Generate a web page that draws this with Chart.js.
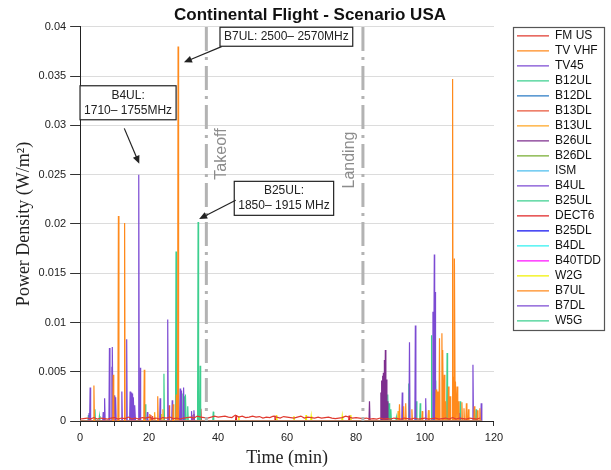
<!DOCTYPE html>
<html>
<head>
<meta charset="utf-8">
<script src="https://cdn.jsdelivr.net/npm/chart.js@4.4.0/dist/chart.umd.min.js"></script>
<style>
  html, body { margin: 0; padding: 0; background: #fff; }
</style>
</head>
<body>
<canvas id="flightChart" width="611" height="470"></canvas>
<script>
        // Series names and colours, in legend order
        const seriesNames = ['FM US', 'TV VHF', 'TV45', 'B12UL', 'B12DL', 'B13DL', 'B13UL', 'B26UL', 'B26DL', 'ISM',
            'B4UL', 'B25UL', 'DECT6', 'B25DL', 'B4DL', 'B40TDD', 'W2G', 'B7UL', 'B7DL', 'W5G'];
        const seriesColors = ['#e03a2f', '#ff8a1c', '#7c4bd3', '#3dcf8f', '#2a7bc4', '#e8563a', '#ffa623', '#7e2f8e', '#77ac30', '#4dbeee',
            '#7c4bd3', '#3dcf8f', '#e02424', '#1010f0', '#30f0f0', '#ff10ff', '#f0f000', '#ff8a1c', '#7c4bd3', '#3dcf8f'];

        const flightEnd = 116.5; // min, last sample

        // FM US background level, one reading per minute from t = 0 (W/m^2)
        const fmUsLevel = [
            0.0002, 0.00025, 0.0003, 0.0002, 0.00035, 0.0002, 0.0003, 0.00025, 0.0002, 0.0003,
            0.00035, 0.0002, 0.0003, 0.00025, 0.0004, 0.0002, 0.0003, 0.0002, 0.00035, 0.0003,
            0.0004, 0.00025, 0.0003, 0.0002, 0.00035, 0.0003, 0.0004, 0.00025, 0.0003, 0.0002,
            0.0003, 0.00035, 0.0004, 0.0003, 0.0005, 0.0004, 0.00035, 0.0003, 0.0004, 0.0005,
            0.0004, 0.00045, 0.0005, 0.0004, 0.00035, 0.0006, 0.0004, 0.0005, 0.00035, 0.0004,
            0.0005, 0.0004, 0.00045, 0.0003, 0.0004, 0.00035, 0.0005, 0.0004, 0.0003, 0.00045,
            0.0004, 0.00035, 0.0003, 0.0004, 0.0005, 0.0003, 0.0004, 0.00035, 0.0003, 0.0004,
            0.0003, 0.00035, 0.0004, 0.0003, 0.00025, 0.0003, 0.00035, 0.0005, 0.0004, 0.0003,
            0.00035, 0.0003, 0.00025, 0.0003, 0.0002, 0.00025, 0.0002, 0.0003, 0.0002, 0.00025,
            0.0002, 0.0003, 0.00025, 0.0002, 0.0003, 0.00025, 0.0002, 0.0003, 0.0002, 0.00025,
            0.0003, 0.0002, 0.00025, 0.0003, 0.0002, 0.00025, 0.0003, 0.0002, 0.00035, 0.0002,
            0.0003, 0.00025, 0.0002, 0.0003, 0.00025, 0.0002, 0.0003
        ];

        // Peaks: [time (min), power density (W/m^2)]
        const tvVhfPeaks = [[4.0, 0.0036], [9.6, 0.0047], [11.1, 0.0208], [12.9, 0.0201], [18.6, 0.0052],
            [20.2, 0.0007], [22.5, 0.0025], [27.0, 0.0017]];
        const tv45Peaks = [[2.6, 0.0008], [2.9, 0.0034], [6.7, 0.0009], [7.1, 0.0023], [8.5, 0.0074], [9.2, 0.0055],
            [9.4, 0.0075], [9.9, 0.0026], [10.3, 0.0024], [12.1, 0.003], [13.5, 0.0083], [14.5, 0.003], [14.8, 0.0029],
            [15.2, 0.0028], [15.5, 0.0024], [15.9, 0.0016], [17.4, 0.0054], [19.5, 0.0009], [23.2, 0.0023],
            [25.4, 0.0103], [26.7, 0.0021], [29.0, 0.0033], [29.4, 0.0031], [30.0, 0.0034], [32.3, 0.001], [33.0, 0.0011]];
        const b13dlPeaks = [[25.8, 0.0016], [21.0, 0.0005]];
        const b13ulPeaks = [[21.6, 0.0009], [24.0, 0.0012], [92.2, 0.001], [101.1, 0.0011]];
        const b26ulPeaks = [[83.9, 0.002], [87.2, 0.0029], [87.5, 0.0041], [87.8, 0.0046], [88.0, 0.0049],
            [88.3, 0.0062], [88.5, 0.0072], [88.8, 0.0042], [89.1, 0.002]];
        const b4ulPeaks = [[17.0, 0.025]];
        const b25ulPeaks = [[34.2, 0.0202], [34.8, 0.0056], [38.6, 0.00095]];
        const dect6Peaks = [[20.5, 0.0006], [32.4, 0.0006], [33.0, 0.0007], [35.0, 0.00125], [45.2, 0.0006],
            [56.5, 0.00055], [78.0, 0.00055]];
        const w2gPeaks = [[23.5, 0.0007], [46.0, 0.0005], [57.0, 0.0006], [62.0, 0.0005], [65.5, 0.0006],
            [67.0, 0.0005], [76.0, 0.0005], [78.5, 0.0006]];
        const b7ulPeaks = [[27.9, 0.0027], [28.4, 0.038], [92.6, 0.0017], [93.8, 0.0015], [94.4, 0.0018], [96.2, 0.0012],
            [99.2, 0.001], [101.0, 0.0011], [103.2, 0.0032], [103.6, 0.003], [104.2, 0.0084], [104.9, 0.0089],
            [105.2, 0.0072], [105.6, 0.0047], [106.0, 0.002], [106.8, 0.0035], [107.3, 0.0025], [108.0, 0.0347],
            [108.3, 0.0045], [108.6, 0.0165], [108.9, 0.004], [109.3, 0.0035], [109.7, 0.002], [110.7, 0.0019],
            [111.3, 0.0013], [112.0, 0.0018], [112.6, 0.0012], [114.3, 0.0015], [115.2, 0.0011], [115.9, 0.0013]];
        const b7dlPeaks = [[93.4, 0.0029], [95.5, 0.008], [97.2, 0.0097], [100.2, 0.0023], [102.3, 0.0111],
            [102.7, 0.0169], [102.9, 0.0131], [104.0, 0.0028], [105.3, 0.0032], [110.0, 0.0008], [113.9, 0.0057], [116.3, 0.0018]];
        const w5gPeaks = [[2.4, 0.0006], [4.3, 0.0012], [5.6, 0.0005], [18.9, 0.0017], [24.3, 0.0048], [27.8, 0.0172],
            [29.8, 0.0028], [30.3, 0.0025], [30.6, 0.0027], [31.2, 0.0015], [89.2, 0.0027], [89.6, 0.0018], [90.1, 0.0012],
            [91.7, 0.0004], [95.3, 0.0038], [97.5, 0.002], [98.6, 0.0018], [101.9, 0.0087], [102.5, 0.0056],
            [103.1, 0.0041], [106.4, 0.0069], [107.0, 0.0016], [110.2, 0.002], [114.8, 0.0012]];

        // peaks per series, same order as seriesNames (FM US uses its level list)
        const seriesPeaks = [null, tvVhfPeaks, tv45Peaks, [], [], b13dlPeaks, b13ulPeaks, b26ulPeaks, [], [],
            b4ulPeaks, b25ulPeaks, dect6Peaks, [], [], [], w2gPeaks, b7ulPeaks, b7dlPeaks, w5gPeaks];

        // Flight phases
        const phaseNames = ['Takeoff', 'Landing'];
        const phaseTimes = [36.6, 82.0];

        // Band call-outs
        const calloutText = [['B7UL: 2500\u2013 2570MHz'], ['B4UL:', '1710\u2013 1755MHz'], ['B25UL:', '1850\u2013 1915 MHz']];
        const calloutBox = [[59.8, 0.0390], [13.9, 0.0323], [59.1, 0.0226]];
        const calloutFrom = [[41.0, 0.0380], [12.8, 0.0297], [45.1, 0.0224]];
        const calloutTo = [[30.1, 0.0364], [17.15, 0.0261], [34.5, 0.0205]];

        const yTicks = [0, 0.005, 0.01, 0.015, 0.02, 0.025, 0.03, 0.035, 0.04];

        // spike: rise from baseline to the peak and back
        function spikeLine(peaks) {
            const pts = [{ x: 0, y: 0 }];
            peaks.forEach(([t, v]) => {
                pts.push({ x: t - 0.15, y: 0 }, { x: t, y: v }, { x: t + 0.15, y: 0 });
            });
            pts.push({ x: flightEnd, y: 0 });
            return pts;
        }

        const datasets = seriesNames.map((name, i) => ({
            label: name,
            data: seriesPeaks[i] ? spikeLine(seriesPeaks[i]) : fmUsLevel.map((v, t) => ({ x: t, y: v })),
            borderColor: seriesColors[i],
            backgroundColor: seriesColors[i],
            borderWidth: 1.2,
            pointRadius: 0,
            pointBorderWidth: 1.4,
            tension: 0
        }));

        const overlayPlugin = {
            id: 'overlay',
            afterDatasetsDraw(chart) {
                const { ctx, chartArea, scales: { x, y } } = chart;
                ctx.save();
                phaseTimes.forEach((t, i) => {
                    const px = x.getPixelForValue(t);
                    ctx.strokeStyle = '#b3b3b3';
                    ctx.lineWidth = 3;
                    ctx.setLineDash([24, 6, 3, 6]);
                    ctx.beginPath();
                    ctx.moveTo(px, chartArea.top);
                    ctx.lineTo(px, chartArea.bottom);
                    ctx.stroke();
                    ctx.setLineDash([]);
                    ctx.save();
                    ctx.translate(px + (i === 0 ? 15 : -13), i === 0 ? 154 : 160);
                    ctx.rotate(-Math.PI / 2);
                    ctx.fillStyle = '#8c8c8c';
                    ctx.font = '16px "Liberation Sans", Arial, sans-serif';
                    ctx.textAlign = 'center';
                    ctx.textBaseline = 'middle';
                    ctx.fillText(phaseNames[i], 0, 0);
                    ctx.restore();
                });
                ctx.restore();
            },
            afterDraw(chart) {
                const { ctx, scales: { x, y } } = chart;
                ctx.save();
                // call-outs
                ctx.font = '12px "Liberation Sans", Arial, sans-serif';
                calloutText.forEach((lines, i) => {
                    const cx = x.getPixelForValue(calloutBox[i][0]);
                    const cy = y.getPixelForValue(calloutBox[i][1]);
                    const w = Math.max(...lines.map(s => ctx.measureText(s).width)) + 8;
                    const h = lines.length * 15 + 4;
                    ctx.fillStyle = '#fff';
                    ctx.fillRect(cx - w / 2, cy - h / 2, w, h);
                    ctx.strokeStyle = '#222';
                    ctx.lineWidth = 1.2;
                    ctx.strokeRect(cx - w / 2, cy - h / 2, w, h);
                    ctx.fillStyle = '#222';
                    ctx.textAlign = 'center';
                    ctx.textBaseline = 'middle';
                    lines.forEach((s, k) => ctx.fillText(s, cx, cy - h / 2 + 2 + 7.5 + k * 15));

                    const x0 = x.getPixelForValue(calloutFrom[i][0]), y0 = y.getPixelForValue(calloutFrom[i][1]);
                    const x1 = x.getPixelForValue(calloutTo[i][0]), y1 = y.getPixelForValue(calloutTo[i][1]);
                    const a = Math.atan2(y1 - y0, x1 - x0);
                    ctx.beginPath();
                    ctx.moveTo(x0, y0);
                    ctx.lineTo(x1 - 6 * Math.cos(a), y1 - 6 * Math.sin(a));
                    ctx.stroke();
                    ctx.beginPath();
                    ctx.moveTo(x1, y1);
                    ctx.lineTo(x1 - 8 * Math.cos(a) + 3.5 * Math.sin(a), y1 - 8 * Math.sin(a) - 3.5 * Math.cos(a));
                    ctx.lineTo(x1 - 8 * Math.cos(a) - 3.5 * Math.sin(a), y1 - 8 * Math.sin(a) + 3.5 * Math.cos(a));
                    ctx.closePath();
                    ctx.fill();
                });
                // legend frame
                const boxes = chart.legend.legendHitBoxes;
                const last = boxes[boxes.length - 1];
                const l = boxes[0].left - 4, t = boxes[0].top - 3;
                const r = Math.max(...boxes.map(b => b.left + b.width)) + 3;
                const btm = last.top + last.height + 3;
                ctx.strokeStyle = '#555';
                ctx.lineWidth = 1.2;
                ctx.strokeRect(Math.round(l) + 0.5, Math.round(t) + 0.5, Math.round(r - l), Math.round(btm - t));
                ctx.restore();
            }
        };

        new Chart(document.getElementById('flightChart').getContext('2d'), {
            type: 'line',
            data: { datasets: datasets },
            options: {
                responsive: false,
                animation: false,
                devicePixelRatio: 1,
                layout: { padding: { left: 9, right: 0, top: 0, bottom: 0 } },
                scales: {
                    x: {
                        type: 'linear',
                        min: 0,
                        max: 120,
                        grid: { drawOnChartArea: false, tickLength: 5, color: '#333', tickColor: '#333' },
                        border: { color: '#222', width: 1 },
                        ticks: {
                            stepSize: 5,
                            autoSkip: false,
                            maxRotation: 0,
                            padding: 6,
                            color: '#222',
                            font: { family: '"Liberation Sans", Arial, sans-serif', size: 11, lineHeight: 1 },
                            callback: v => (v % 20 === 0 ? v : '')
                        },
                        title: {
                            display: true,
                            text: 'Time (min)',
                            color: '#222',
                            font: { family: '"Liberation Serif", "Times New Roman", serif', size: 18, lineHeight: 1 },
                            padding: { top: 0, bottom: 3 }
                        }
                    },
                    y: {
                        min: 0,
                        max: 0.04,
                        afterBuildTicks: s => { s.ticks = yTicks.map(v => ({ value: v })); },
                        grid: { color: '#dcdcdc', tickLength: 10, tickColor: '#333' },
                        border: { color: '#222', width: 1 },
                        ticks: {
                            padding: 4,
                            color: '#222',
                            font: { family: '"Liberation Sans", Arial, sans-serif', size: 11 },
                            callback: v => Number(v.toFixed(3))
                        },
                        title: {
                            display: true,
                            text: 'Power Density (W/m\u00b2)',
                            color: '#222',
                            font: { family: '"Liberation Serif", "Times New Roman", serif', size: 18 },
                            padding: { top: 4, bottom: 0 }
                        }
                    },
                    spacer: {
                        position: 'right',
                        display: true,
                        grid: { display: false, drawTicks: false },
                        border: { display: false },
                        ticks: { display: false },
                        afterFit: s => { s.width = 20; }
                    }
                },
                plugins: {
                    title: {
                        display: true,
                        text: 'Continental Flight - Scenario USA',
                        color: '#111',
                        font: { family: '"Liberation Sans", Arial, sans-serif', size: 17, weight: 'bold' },
                        padding: { top: 5, bottom: 1.5 }
                    },
                    legend: {
                        position: 'right',
                        align: 'start',
                        fullSize: false,
                        labels: {
                            usePointStyle: true,
                            pointStyle: 'line',
                            pointStyleWidth: 32,
                            padding: 3,
                            color: '#111',
                            font: { family: '"Liberation Sans", Arial, sans-serif', size: 12 }
                        }
                    },
                    tooltip: { enabled: false }
                }
            },
            plugins: [overlayPlugin]
        });
</script>
</body>
</html>
